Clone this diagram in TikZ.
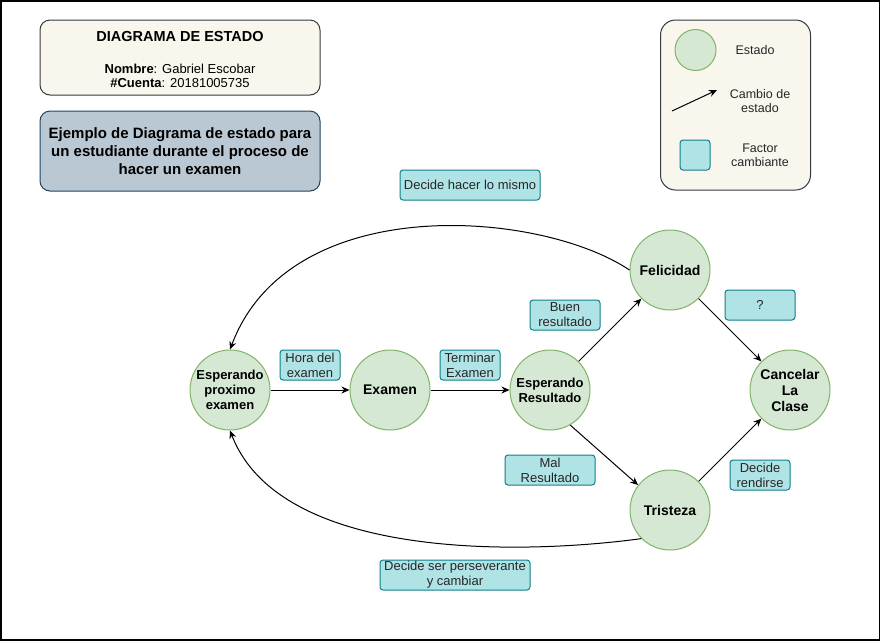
\documentclass[tikz,border=0pt]{standalone}
\usepackage{fontspec}
\setmainfont{Liberation Sans}
\usepackage{tikz}
\usetikzlibrary{arrows.meta,positioning,calc}
\definecolor{estadofill}{HTML}{D5E8D4}
\definecolor{estadodraw}{HTML}{82B366}
\definecolor{factorfill}{HTML}{B0E3E6}
\definecolor{factordraw}{HTML}{0E8088}
\definecolor{notafill}{HTML}{F9F7ED}
\definecolor{notadraw}{HTML}{36393D}
\definecolor{temafill}{HTML}{BAC8D3}
\definecolor{temadraw}{HTML}{23445D}

\begin{document}
\begin{tikzpicture}[
    x=1pt,y=-1pt,>={Stealth[length=8pt,width=7pt]},
    estado/.style={circle,draw=estadodraw,fill=estadofill,line width=1pt,minimum size=80pt,inner sep=0pt,align=center,font=\fontsize{13}{15}\selectfont\bfseries},
    grande/.style={font=\fontsize{14}{16}\selectfont\bfseries},
    factor/.style={draw=factordraw,fill=factorfill,rounded corners=3pt,line width=1pt,inner sep=0pt,minimum height=30pt,align=center,text=black!85,font=\fontsize{13}{15}\selectfont},
    nota/.style={draw=notadraw,fill=notafill,rounded corners=10pt,line width=1pt,inner sep=0pt,align=center},
    leyenda/.style={align=center,inner sep=0pt,text=black!85,font=\fontsize{12.5}{14}\selectfont},
    cambio/.style={->,line width=1pt}
  ]
  \useasboundingbox (0,0) rectangle (881,641);
  \draw[line width=1.5pt] (0.75,0.75) rectangle (879.25,639.75);
  % encabezado
  \node[nota,minimum width=280pt,minimum height=75pt,font=\fontsize{13}{14}\selectfont] (titulo) at (180,57.5) {{\fontsize{14.5}{17}\selectfont\bfseries\rule{0pt}{14.4pt}DIAGRAMA DE ESTADO}\\[18pt]\textbf{Nombre}: Gabriel Escobar\\\textbf{\#Cuenta}: 20181005735};
  \node[nota,draw=temadraw,fill=temafill,minimum width=280pt,minimum height=80pt,font=\fontsize{15}{18}\selectfont\bfseries] (tema) at (180,151) {Ejemplo de Diagrama de estado para\\un estudiante durante el proceso de\\hacer un examen};
  % leyenda
  \node[nota,rounded corners=15pt,minimum width=150pt,minimum height=170pt] (ley) at (735.5,105) {};
  \node[circle,draw=estadodraw,fill=estadofill,line width=1pt,minimum size=41pt,inner sep=0pt] (leyestado) at (695.5,50) {};
  \node[leyenda] (leyestadotxt) at (755,50) {Estado};
  \coordinate (leyA) at (672,111);
  \coordinate (leyB) at (717,90);
  \draw[cambio] (leyA) -- (leyB);
  \node[leyenda] (leycambiotxt) at (760,101.5) {Cambio de\\estado};
  \node[draw=factordraw,fill=factorfill,rounded corners=3pt,line width=1pt,minimum size=30pt,inner sep=0pt] (leyfactor) at (695,155) {};
  \node[leyenda] (leyfactortxt) at (760,155.5) {Factor\\cambiante};
  % estados
  \node[estado] (epe) at (230,390) {Esperando\\proximo\\examen};
  \node[estado,grande] (exa) at (390,390) {Examen};
  \node[estado] (ere) at (550,390) {Esperando\\Resultado};
  \node[estado,grande] (fel) at (670,270) {Felicidad};
  \node[estado,grande] (tri) at (670,510) {Tristeza};
  \node[estado,grande] (can) at (790,390) {Cancelar\\La\\Clase};
  % factores
  \node[factor,minimum width=140pt] (fmismo) at (470,185) {Decide hacer lo mismo};
  \node[factor,minimum width=70pt] (fbuen) at (565,315) {Buen\\resultado};
  \node[factor,minimum width=70pt] (fduda) at (760,305) {?};
  \node[factor,minimum width=60pt] (fhora) at (310,365) {Hora del\\examen};
  \node[factor,minimum width=60pt] (fterminar) at (470,365) {Terminar\\Examen};
  \node[factor,minimum width=90pt] (fmal) at (550,470) {Mal\\Resultado};
  \node[factor,minimum width=60pt] (frendirse) at (760,475) {Decide\\rendirse};
  \node[factor,minimum width=150pt] (fperseverar) at (455,575) {Decide ser perseverante\\y cambiar};
  % cambios de estado
  \draw[cambio] (epe) -- (exa);
  \draw[cambio] (exa) -- (ere);
  \draw[cambio] (ere) -- (fel);
  \draw[cambio] (ere.-60) -- (tri.142);
  \draw[cambio] (fel) -- (can);
  \draw[cambio] (tri) -- (can);
  \draw[cambio] (fel.west) .. controls (540,210) and (290,190) .. (epe.north);
  \draw[cambio] (tri.225) .. controls (520,555) and (280,560) .. (epe.south);
\end{tikzpicture}
\end{document}
